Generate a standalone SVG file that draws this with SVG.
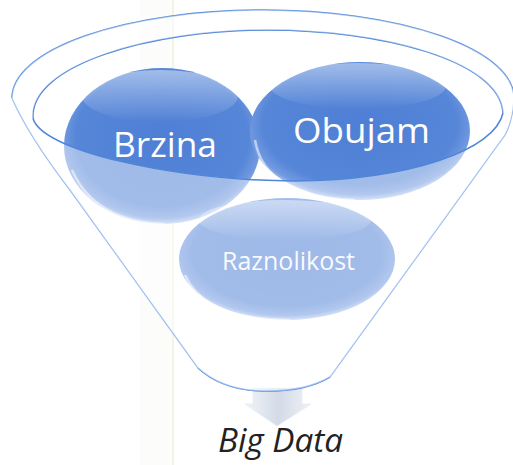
<svg xmlns="http://www.w3.org/2000/svg" width="513" height="465" viewBox="0 0 513 465">
<defs>
<radialGradient id="bub" cx="50%" cy="45%" r="55%">
<stop offset="0" stop-color="#4f7fd5"/>
<stop offset="0.8" stop-color="#5686d8"/>
<stop offset="0.93" stop-color="#729ae0"/>
<stop offset="1" stop-color="#b5cbf2"/>
</radialGradient>
<linearGradient id="hl" x1="0" y1="0" x2="0" y2="1">
<stop offset="0" stop-color="#ffffff" stop-opacity="0.45"/>
<stop offset="1" stop-color="#ffffff" stop-opacity="0"/>
</linearGradient>
<linearGradient id="arr" x1="0" y1="0" x2="1" y2="0">
<stop offset="0" stop-color="#f2f4f8"/>
<stop offset="0.5" stop-color="#d3dbe8"/>
<stop offset="1" stop-color="#eef1f6"/>
</linearGradient>
<style>
.bub{fill:url(#bub);}
.hl{fill:url(#hl);}
.rim{fill:none;stroke:#ffffff;stroke-opacity:0.55;stroke-width:2.5;}
.lbl{font-family:"Open Sans","Noto Sans",sans-serif;fill:#ffffff;}
.rimline{fill:none;stroke:#4f86d8;stroke-width:1.5;}
.side{fill:none;stroke:#8db5ec;stroke-width:1.3;}
</style>
</defs>
<rect width="513" height="465" fill="#ffffff"/>
<rect x="140" y="0" width="34" height="465" fill="#f4f5f3" opacity="0.3"/>
<line x1="173" y1="0" x2="173" y2="465" stroke="#eef1dc" stroke-width="2" opacity="0.7"/>

<g id="arrow">
<path d="M253,388 L302,388 L302,404 L311,404 L277,426 L245,404 L253,404 Z" fill="url(#arr)" stroke="#e6ebf2" stroke-width="0.8"/>
</g>

<g id="funnel-back">
<path d="M12,98 A251,88 0 0 1 514,98" fill="none" stroke="#5a8fdc" stroke-width="1.5"/>
<path d="M12,98 Q28,135 70,190 L198,368 Q222,390 262,391 Q305,392 330,377 L505,135 Q513,120 514,98" class="side"/>
<path d="M198,368 Q222,390 262,391 Q305,392 330,377" fill="none" stroke="#6f9de2" stroke-width="1.5"/>
<path d="M503,113 C500,60 380,30 268,30 C150,30 30,65 33,118" class="rimline"/>
</g>

<g id="brzina">
<ellipse cx="162" cy="146" rx="98" ry="78" class="bub"/>
<ellipse cx="160" cy="96" rx="78" ry="26" class="hl"/>
<path d="M72,170 Q95,222 165,224" class="rim"/>
</g>
<g id="obujam">
<ellipse cx="360" cy="131" rx="110" ry="69" class="bub"/>
<ellipse cx="358" cy="86" rx="88" ry="23" class="hl"/>
<path d="M255,140 Q265,198 355,200" class="rim"/>
</g>
<g id="raznolikost">
<ellipse cx="287" cy="259" rx="108" ry="61" class="bub"/>
<ellipse cx="285" cy="220" rx="86" ry="20" class="hl"/>
<path d="M185,275 Q205,320 290,320" class="rim"/>
</g>

<g id="funnel-front">
<path fill-rule="evenodd" fill="#ffffff" fill-opacity="0.45" d="M12,98 A251,88 0 0 1 514,98 Q513,120 505,135 L330,377 Q305,392 262,391 Q222,390 198,368 L70,190 Q28,135 12,98 Z M33,118 C40,150 170,180 295,181 C410,180 495,150 503,113 C500,60 380,30 268,30 C150,30 30,65 33,118 Z"/>
<path d="M33,118 C40,150 170,180 295,181 C410,180 495,150 503,113" class="rimline"/>
</g>

<g id="labels">
<text x="113" y="157" font-size="35" class="lbl" textLength="104" lengthAdjust="spacingAndGlyphs">Brzina</text>
<text x="293" y="143" font-size="35" class="lbl" textLength="137" lengthAdjust="spacingAndGlyphs">Obujam</text>
<text x="222" y="270" font-size="25" class="lbl" fill-opacity="0.95" textLength="133" lengthAdjust="spacingAndGlyphs">Raznolikost</text>
<text x="218" y="452" font-size="33" font-style="italic" font-family="Open Sans, Noto Sans, sans-serif" fill="#222222" textLength="125" lengthAdjust="spacingAndGlyphs">Big Data</text>
</g>
</svg>
